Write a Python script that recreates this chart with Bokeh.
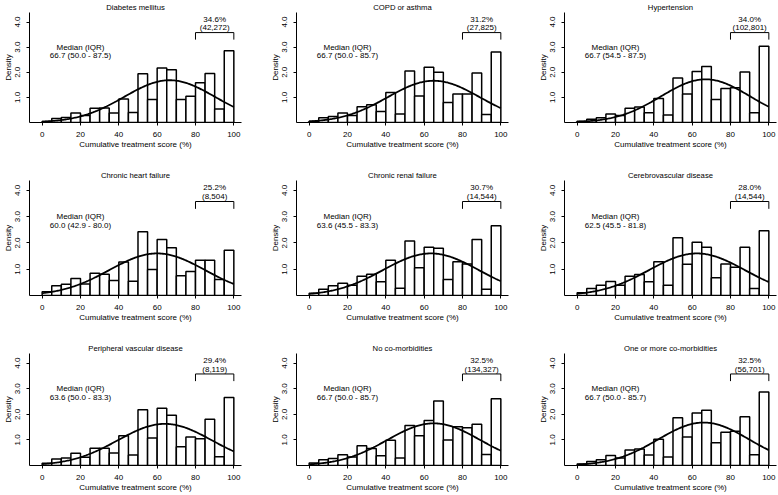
import numpy as np
from bokeh.plotting import figure
from bokeh.layouts import column, row
from bokeh.models import FixedTicker, PrintfTickFormatter
from bokeh.embed import file_html
from bokeh.resources import INLINE
from bokeh.core.properties import value

# ---------------- data ----------------
panel_titles = ["Diabetes mellitus", "COPD or asthma", "Hypertension",
                "Chronic heart failure", "Chronic renal failure", "Cerebrovascular disease",
                "Peripheral vascular disease", "No co-morbidities", "One or more co-morbidities"]
median_iqr = ["66.7 (50.0 - 87.5)", "66.7 (50.0 - 85.7)", "66.7 (54.5 - 87.5)",
              "60.0 (42.9 - 80.0)", "63.6 (45.5 - 83.3)", "62.5 (45.5 - 81.8)",
              "63.6 (50.0 - 83.3)", "66.7 (50.0 - 85.7)", "66.7 (50.0 - 85.7)"]
top_pct = ["34.6%", "31.2%", "34.0%", "25.2%", "30.7%", "28.0%", "29.4%", "32.5%", "32.5%"]
top_n = ["(42,272)", "(27,825)", "(102,801)", "(8,504)", "(14,544)", "(14,544)",
         "(8,119)", "(134,327)", "(56,701)"]

bin_left = [0, 5, 10, 15, 20, 25, 30, 35, 40, 45, 50, 55, 60, 65, 70, 75, 80, 85, 90, 95]
bin_right = [5, 10, 15, 20, 25, 30, 35, 40, 45, 50, 55, 60, 65, 70, 75, 80, 85, 90, 95, 100]

density_diabetes = [0.04, 0.16, 0.20, 0.38, 0.28, 0.57, 0.58, 0.38, 0.94, 0.40,
                    1.94, 0.92, 2.17, 2.10, 0.92, 1.05, 1.58, 1.95, 0.54, 2.86]
density_copd = [0.05, 0.19, 0.24, 0.38, 0.28, 0.63, 0.71, 0.44, 1.19, 0.34,
                2.05, 1.06, 2.20, 2.00, 0.80, 1.13, 1.13, 1.97, 0.32, 2.81]
density_hypertension = [0.05, 0.13, 0.19, 0.34, 0.28, 0.57, 0.62, 0.39, 0.96, 0.30,
                        1.77, 1.13, 2.03, 2.23, 0.92, 1.35, 1.38, 2.01, 0.39, 3.04]
density_chf = [0.14, 0.37, 0.43, 0.65, 0.44, 0.85, 0.81, 0.57, 1.28, 0.54,
               2.43, 0.99, 2.13, 1.82, 0.75, 0.91, 1.34, 1.34, 0.61, 1.72]
density_crf = [0.09, 0.24, 0.37, 0.47, 0.39, 0.73, 0.81, 0.52, 1.34, 0.28,
               2.08, 1.06, 1.84, 1.80, 0.61, 1.29, 1.20, 2.13, 0.24, 2.66]
density_cvd = [0.10, 0.27, 0.39, 0.53, 0.39, 0.73, 0.80, 0.52, 1.29, 0.39,
               2.20, 1.19, 2.03, 1.84, 0.68, 1.20, 1.08, 1.84, 0.27, 2.47]
density_pvd = [0.09, 0.25, 0.29, 0.48, 0.32, 0.67, 0.67, 0.49, 1.16, 0.41,
               2.18, 1.08, 2.24, 1.97, 0.73, 1.11, 1.05, 1.81, 0.34, 2.66]
density_none = [0.10, 0.22, 0.27, 0.42, 0.33, 0.77, 0.66, 0.38, 0.99, 0.29,
                1.56, 1.16, 1.76, 2.52, 1.00, 1.52, 1.48, 1.61, 0.43, 2.61]
density_one_plus = [0.06, 0.16, 0.22, 0.39, 0.29, 0.61, 0.65, 0.41, 1.03, 0.33,
                    1.87, 1.11, 2.05, 2.16, 0.89, 1.30, 1.34, 1.91, 0.42, 2.87]

densities = [density_diabetes, density_copd, density_hypertension,
             density_chf, density_crf, density_cvd,
             density_pvd, density_none, density_one_plus]

# fitted normal curve parameters
fit_mean = [66.5, 65.0, 67.0, 60.0, 63.5, 62.5, 64.0, 65.0, 66.0]
fit_sd = [23.7, 24.0, 23.2, 24.9, 24.9, 24.9, 24.5, 24.2, 23.75]

x_ticks = [0, 20, 40, 60, 80, 100]
y_ticks = [1, 2, 3, 4]
high_from, high_to = 80, 100

# ---------------- layout ----------------
FONT = "Liberation Sans"
FS = "8px"
col_w = [267, 268, 242]
row_h = [164, 173, 157]
top_b = [7, 16, 16]
bot_b = [42, 42, 26]
left_b = 28
frame_w = 213
frame_h = 115

figs = []
for i in range(9):
    r, c = divmod(i, 3)
    p = figure(width=col_w[c], height=row_h[r], x_range=(-6.6, 104.0), y_range=(0, 4.38),
               output_backend="svg", toolbar_location=None,
               min_border_left=left_b, min_border_right=col_w[c] - left_b - frame_w,
               min_border_top=top_b[r], min_border_bottom=bot_b[r])
    p.title.text = panel_titles[i]
    p.title.align = "center"
    p.title.text_font = FONT
    p.title.text_font_size = "7.7px"
    p.title.text_font_style = "normal"
    p.title.text_color = "black"
    p.title.standoff = 1
    p.title.offset = 0
    p.outline_line_color = None
    p.grid.visible = False
    p.background_fill_color = "white"
    p.border_fill_color = "white"

    p.quad(left=bin_left, right=bin_right, bottom=0, top=densities[i],
           fill_color="white", line_color="black", line_width=1.5)

    xs = np.linspace(0, 100, 201)
    m, s = fit_mean[i], fit_sd[i]
    ys = 100 * np.exp(-(xs - m) ** 2 / (2 * s * s)) / (s * np.sqrt(2 * np.pi))
    p.line(xs, ys, line_color="black", line_width=1.8)

    p.line([high_from, high_from, high_to, high_to], [3.3, 3.58, 3.58, 3.3],
           line_color="black", line_width=1)
    p.text(x=[(high_from + high_to) / 2] * 2, y=[4.1, 3.77], text=[top_pct[i], top_n[i]],
           text_font=value(FONT), text_font_size=FS, text_align="center",
           text_baseline="middle", text_color="black")
    p.text(x=[20, 20], y=[3.0, 2.67], text=["Median (IQR)", median_iqr[i]],
           text_font=value(FONT), text_font_size=FS, text_align="center",
           text_baseline="middle", text_color="black")

    for ax in (p.xaxis[0], p.yaxis[0]):
        ax.axis_line_color = "black"
        ax.axis_line_width = 1
        ax.major_tick_line_color = "black"
        ax.major_tick_in = 0
        ax.major_tick_out = 3
        ax.minor_tick_line_color = None
        ax.major_label_text_font = FONT
        ax.major_label_text_font_size = FS
        ax.major_label_text_color = "black"
        ax.axis_label_text_font = FONT
        ax.axis_label_text_font_size = FS
        ax.axis_label_text_font_style = "normal"
        ax.axis_label_text_color = "black"
    p.xaxis.ticker = FixedTicker(ticks=x_ticks)
    p.xaxis.axis_label = "Cumulative treatment score (%)"
    p.xaxis.major_label_standoff = 6
    p.xaxis.axis_label_standoff = 0
    p.yaxis.ticker = FixedTicker(ticks=y_ticks)
    p.yaxis.formatter = PrintfTickFormatter(format="%.1f")
    p.yaxis.major_label_orientation = "vertical"
    p.yaxis.axis_label = "Density"
    p.yaxis.major_label_standoff = 6
    p.yaxis.axis_label_standoff = 0
    figs.append(p)

layout = column(row(*figs[0:3]), row(*figs[3:6]), row(*figs[6:9]))
open("out.html", "w").write(file_html(layout, INLINE))
